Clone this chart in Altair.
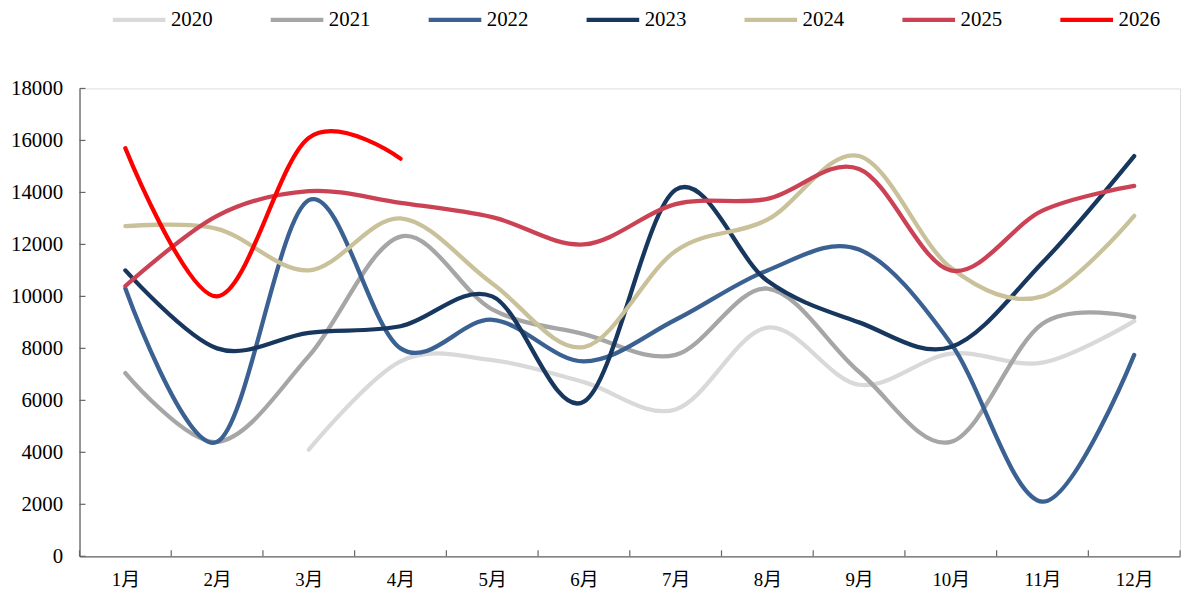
import altair as alt
import pandas as pd

months = list(range(1, 13))
years = ["2020", "2021", "2022", "2023", "2024", "2025", "2026"]
colors = ["#d9d9d9", "#a6a6a6", "#3a6191", "#17375e", "#c9c19a", "#cc4255", "#ff0000"]
widths = [4.3, 4.3, 5.2, 4.8, 5.4, 7.5, 8]

v2020 = [None, None, 4100, 7500, 7550, 6700, 5650, 8800, 6600, 7800, 7450, 9050]
v2021 = [7050, 4400, 7700, 12300, 9500, 8550, 7750, 10300, 7100, 4400, 8950, 9200]
v2022 = [10300, 4400, 13700, 8000, 9100, 7500, 9100, 11000, 11800, 8200, 2100, 7750]
v2023 = [11000, 8000, 8600, 8850, 10000, 5950, 14100, 10600, 9000, 8050, 11300, 15400]
v2024 = [12700, 12600, 11000, 13000, 10500, 8050, 11750, 12950, 15400, 11100, 10000, 13100]
v2025 = [10400, 13100, 14050, 13600, 13050, 12000, 13550, 13750, 14900, 11000, 13300, 14250]
v2026 = [15700, 10000, 16100, 15300, None, None, None, None, None, None, None, None]

series = [v2020, v2021, v2022, v2023, v2024, v2025, v2026]
rows = []
for y, vals in zip(years, series):
    for m, v in zip(months, vals):
        if v is not None:
            rows.append({"year": y, "month": m, "value": v})
df = pd.DataFrame(rows)

y_ticks = list(range(0, 18001, 2000))
x_edges = [m + 0.5 for m in range(0, 13)]

FONT = "Liberation Serif, Noto Sans CJK SC"
AXIS_COLOR = "#666666"

xscale = alt.Scale(domain=[0.5, 12.5], nice=False, zero=False)
yscale = alt.Scale(domain=[0, 18000], nice=False)

xaxis = alt.Axis(values=months, labelExpr="datum.value + '月'", ticks=False, grid=False,
                 domainColor=AXIS_COLOR, domainWidth=1.3, labelPadding=14, labelFont=FONT,
                 labelFontSize=19, labelColor="black", title=None)
yaxis = alt.Axis(values=y_ticks, format="d", ticks=False, grid=False, domainColor=AXIS_COLOR,
                 domainWidth=1.3, labelPadding=17, labelFont=FONT, labelFontSize=21,
                 labelColor="black", title=None)

lines = alt.Chart(df).mark_line(interpolate="cardinal", strokeCap="round", strokeJoin="round").encode(
    x=alt.X("month:Q", scale=xscale, axis=xaxis),
    y=alt.Y("value:Q", scale=yscale, axis=yaxis),
    color=alt.Color("year:N", scale=alt.Scale(domain=years, range=colors),
                    legend=alt.Legend(orient="none", direction="horizontal", legendX=31, legendY=-98,
                                      title=None, symbolType="stroke", symbolSize=2809,
                                      symbolStrokeWidth=7, labelFont=FONT, labelFontSize=21,
                                      labelColor="black", labelOffset=3, columnPadding=49)),
    strokeWidth=alt.StrokeWidth("year:N", scale=alt.Scale(domain=years, range=widths), legend=None),
    order=alt.Order("year:N"),
)

xt = alt.Chart(pd.DataFrame({"m": x_edges})).mark_rule(color=AXIS_COLOR, strokeWidth=1.2).encode(
    x=alt.X("m:Q", scale=xscale, axis=xaxis), y=alt.value(465), y2=alt.value(471))
yt = alt.Chart(pd.DataFrame({"v": y_ticks})).mark_rule(color=AXIS_COLOR, strokeWidth=1.2).encode(
    y=alt.Y("v:Q", scale=yscale, axis=yaxis), x=alt.value(0), x2=alt.value(6))

chart = alt.layer(xt, yt, lines).properties(
    width=1108, height=471,
    autosize=alt.AutoSizeParams(type="none"),
    padding={"left": 72, "top": 79, "right": 7, "bottom": 41},
).configure_view(stroke=None).configure(background="white")

chart.save("out.html", embed_options={"renderer": "svg", "actions": False})
